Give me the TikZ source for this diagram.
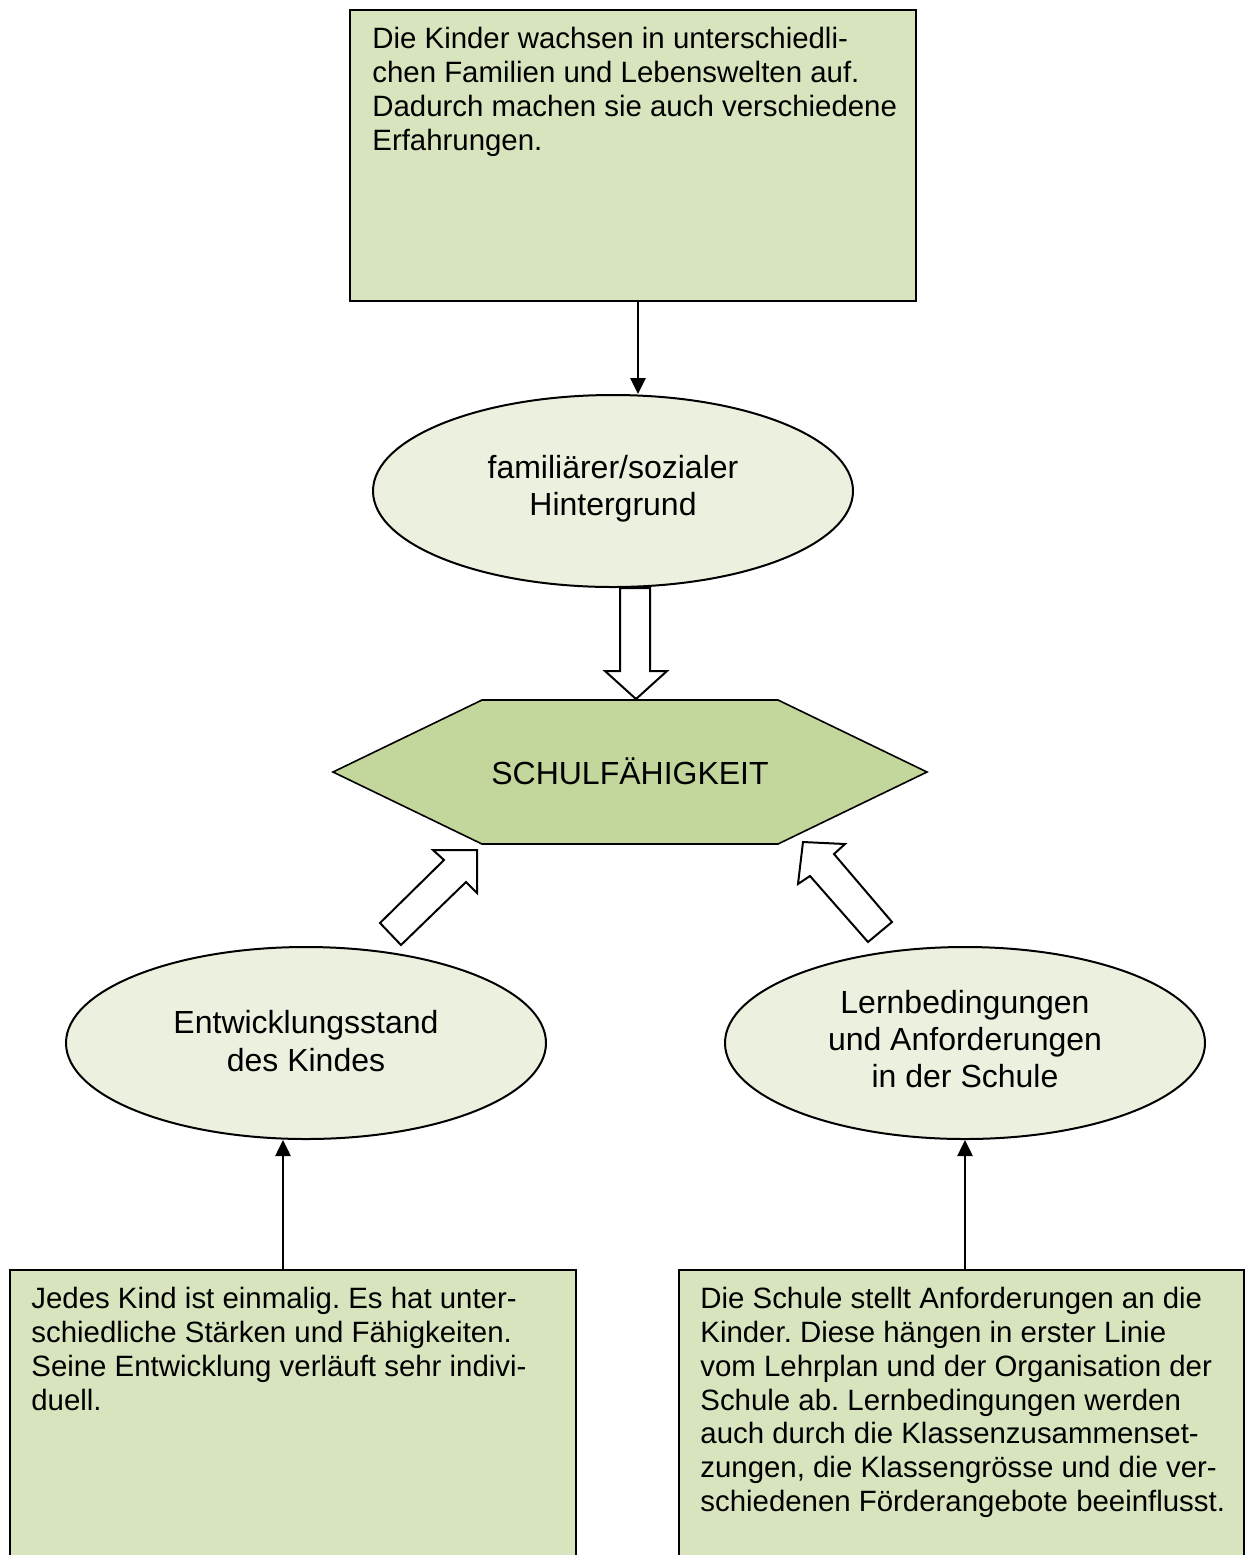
\documentclass[tikz,border=0pt]{standalone}
\usepackage{fontspec}
\setmainfont{Liberation Sans}
\usetikzlibrary{shapes.geometric,arrows.meta,calc}
\definecolor{boxgreen}{HTML}{D7E4BD}
\definecolor{ellgreen}{HTML}{EBF1DE}
\definecolor{hexgreen}{HTML}{C3D69B}
\frenchspacing
\begin{document}
\begin{tikzpicture}[x=0.5pt,y=-0.5pt,
  box/.style={draw, line width=1pt, fill=boxgreen, rectangle, inner sep=0pt},
  boxtext/.style={anchor=north west, inner sep=0pt, align=left, font=\fontsize{14.7}{16.9}\selectfont},
  ell/.style={ellipse, draw, line width=1pt, fill=ellgreen, minimum width=240pt, minimum height=96pt, inner sep=0pt, align=center, font=\fontsize{16}{18.7}\selectfont},
  elltext/.style={inner sep=0pt, align=center, font=\fontsize{16}{18.7}\selectfont},
  thinarrow/.style={line width=1.3pt, -{Triangle[length=8pt,width=7.5pt]}},
  blockarrow/.style={draw, line width=1pt, fill=white, line join=miter}]
\useasboundingbox (0,0) rectangle (1246,1555);
\clip (0,0) rectangle (1246,1555);

% boxes
\node[box, minimum width=283pt, minimum height=145.5pt] (top) at (633,155.5) {};
\node[boxtext] (toptext) at (372,27) {Die Kinder wachsen in unterschiedli-\\chen Familien und Lebenswelten auf.\\Dadurch machen sie auch verschiedene\\Erfahrungen.};

\node[box, minimum width=283pt, minimum height=165pt] (bl) at (293,1435) {};
\node[boxtext] (bltext) at (31,1287) {Jedes Kind ist einmalig. Es hat unter-\\schiedliche Stärken und Fähigkeiten.\\Seine Entwicklung verläuft sehr indivi-\\duell.};

\node[box, minimum width=282.5pt, minimum height=165pt] (br) at (961.5,1435) {};
\node[boxtext] (brtext) at (700,1287) {Die Schule stellt Anforderungen an die\\Kinder. Diese hängen in erster Linie\\vom Lehrplan und der Organisation der\\Schule ab. Lernbedingungen werden\\auch durch die Klassenzusammenset-\\zungen, die Klassengrösse und die ver-\\schiedenen Förderangebote beeinflusst.};

% ellipses
\node[ell] (e1) at (613,491) {};
\node[elltext] (e1text) at (613,489) {familiärer/sozialer\\Hintergrund};
\node[ell] (e2) at (306,1043) {};
\node[elltext] (e2text) at (306,1041) {Entwicklungsstand\\des Kindes};
\node[ell] (e3) at (965,1043) {};
\node[elltext] (e3text) at (965,1039) {Lernbedingungen\\und Anforderungen\\in der Schule};

% hexagon
\draw[fill=hexgreen, line width=0.8pt, line join=miter] (333,772) -- (482,700) -- (778,700) -- (927,772) -- (778,844) -- (482,844) -- cycle;
\node[font=\fontsize{16}{18.7}\selectfont, inner sep=0pt] (hex) at (630,771) {SCHULFÄHIGKEIT};

% block arrows
\draw[blockarrow] (620,588) -- (650,588) -- (650,671) -- (667,671) -- (636,699) -- (605,671) -- (620,671) -- cycle;
\draw[blockarrow] (433,850) -- (477,850) -- (477,893) -- (466,882) -- (401,945) -- (380,923) -- (444,860) -- cycle;
\draw[blockarrow] (803,842) -- (845,844) -- (834,854) -- (892,922) -- (868,942) -- (810,876) -- (798,884) -- cycle;

% thin arrows
\coordinate (c1) at (638,0);
\coordinate (c2) at (283,0);
\draw[thinarrow] (top.south -| c1) -- (e1.north -| c1);
\draw[thinarrow] (bl.north -| c2) -- (e2.south -| c2);
\draw[thinarrow] (br.north -| e3.south) -- (e3.south);
\end{tikzpicture}
\end{document}
